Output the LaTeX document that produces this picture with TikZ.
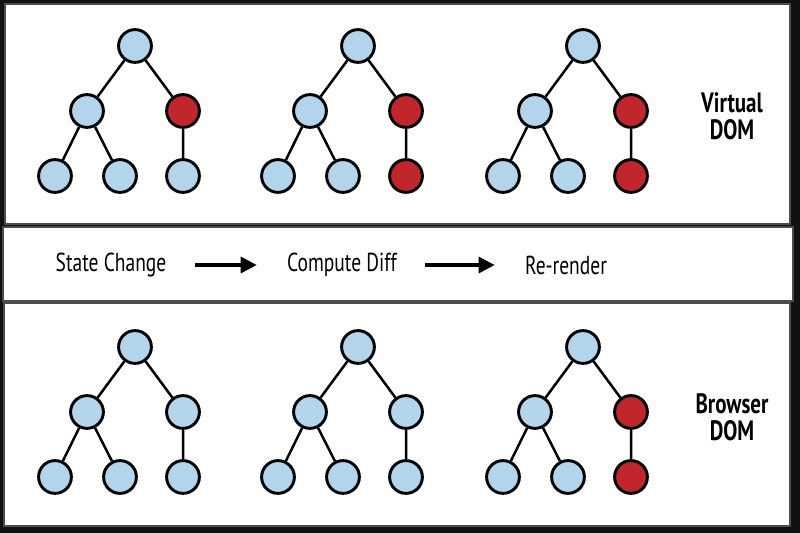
\documentclass[tikz,border=0pt]{standalone}
\usepackage{fontspec}
\setmainfont{PT Sans}[FakeStretch=0.75]
\usetikzlibrary{arrows.meta,positioning}
\definecolor{domblue}{HTML}{B3D5EC}
\definecolor{domred}{HTML}{C1262C}
\definecolor{frame}{HTML}{111111}
\begin{document}
\begin{tikzpicture}[x=0.5pt,y=-0.5pt,
  panel/.style={fill=white,draw=gray!60!black,line width=0.8pt},
  dnode/.style={circle,draw=black,line width=1.45pt,fill=domblue,minimum size=16.4pt,inner sep=0pt},
  edge/.style={line width=1.25pt,black},
  step text/.style={font=\fontsize{13}{15}\selectfont,inner sep=0pt},
  dom label/.style={font=\fontsize{14}{13.5}\selectfont\bfseries,align=center,inner sep=0pt},
  flow/.style={line width=1.6pt,-{Triangle[length=8pt,width=8pt]},shorten <=14pt,shorten >=15pt}]
  \fill[frame] (0,0) rectangle (800,533);
  \draw[panel] (5,4) rectangle (790,224);
  \draw[panel] (3,227) rectangle (793,301);
  \draw[panel] (4,303) rectangle (790,526);
  \foreach \n/\dx/\dy/\cb/\cbb in {v1/0/0/domred/domblue, v2/223/0/domred/domred,
      v3/448/0/domred/domred, b1/0/301/domblue/domblue, b2/223/301/domblue/domblue,
      b3/448/301/domred/domred}{
    \begin{scope}[shift={(\dx,\dy)}]
      \node[dnode] (\n-r) at (135,46) {};
      \node[dnode] (\n-a) at (87,111) {};
      \node[dnode,fill=\cb] (\n-b) at (183,111) {};
      \node[dnode] (\n-aa) at (55,176) {};
      \node[dnode] (\n-ab) at (120,176) {};
      \node[dnode,fill=\cbb] (\n-bb) at (183,176) {};
      \draw[edge] (\n-r)--(\n-a) (\n-r)--(\n-b) (\n-a)--(\n-aa) (\n-a)--(\n-ab) (\n-b)--(\n-bb);
    \end{scope}
  }
  \node[dom label] (vdom) at (732,116.5) {Virtual\\DOM};
  \node[dom label] (bdom) at (732,417.5) {Browser\\DOM};
  \node[step text] (state) at (111,265) {State Change};
  \node[step text] (diff) at (342,265) {Compute Diff};
  \node[step text] (render) at (566,265) {Re-render};
  \draw[flow] (state) -- (diff);
  \draw[flow] (diff) -- (render);
\end{tikzpicture}
\end{document}
